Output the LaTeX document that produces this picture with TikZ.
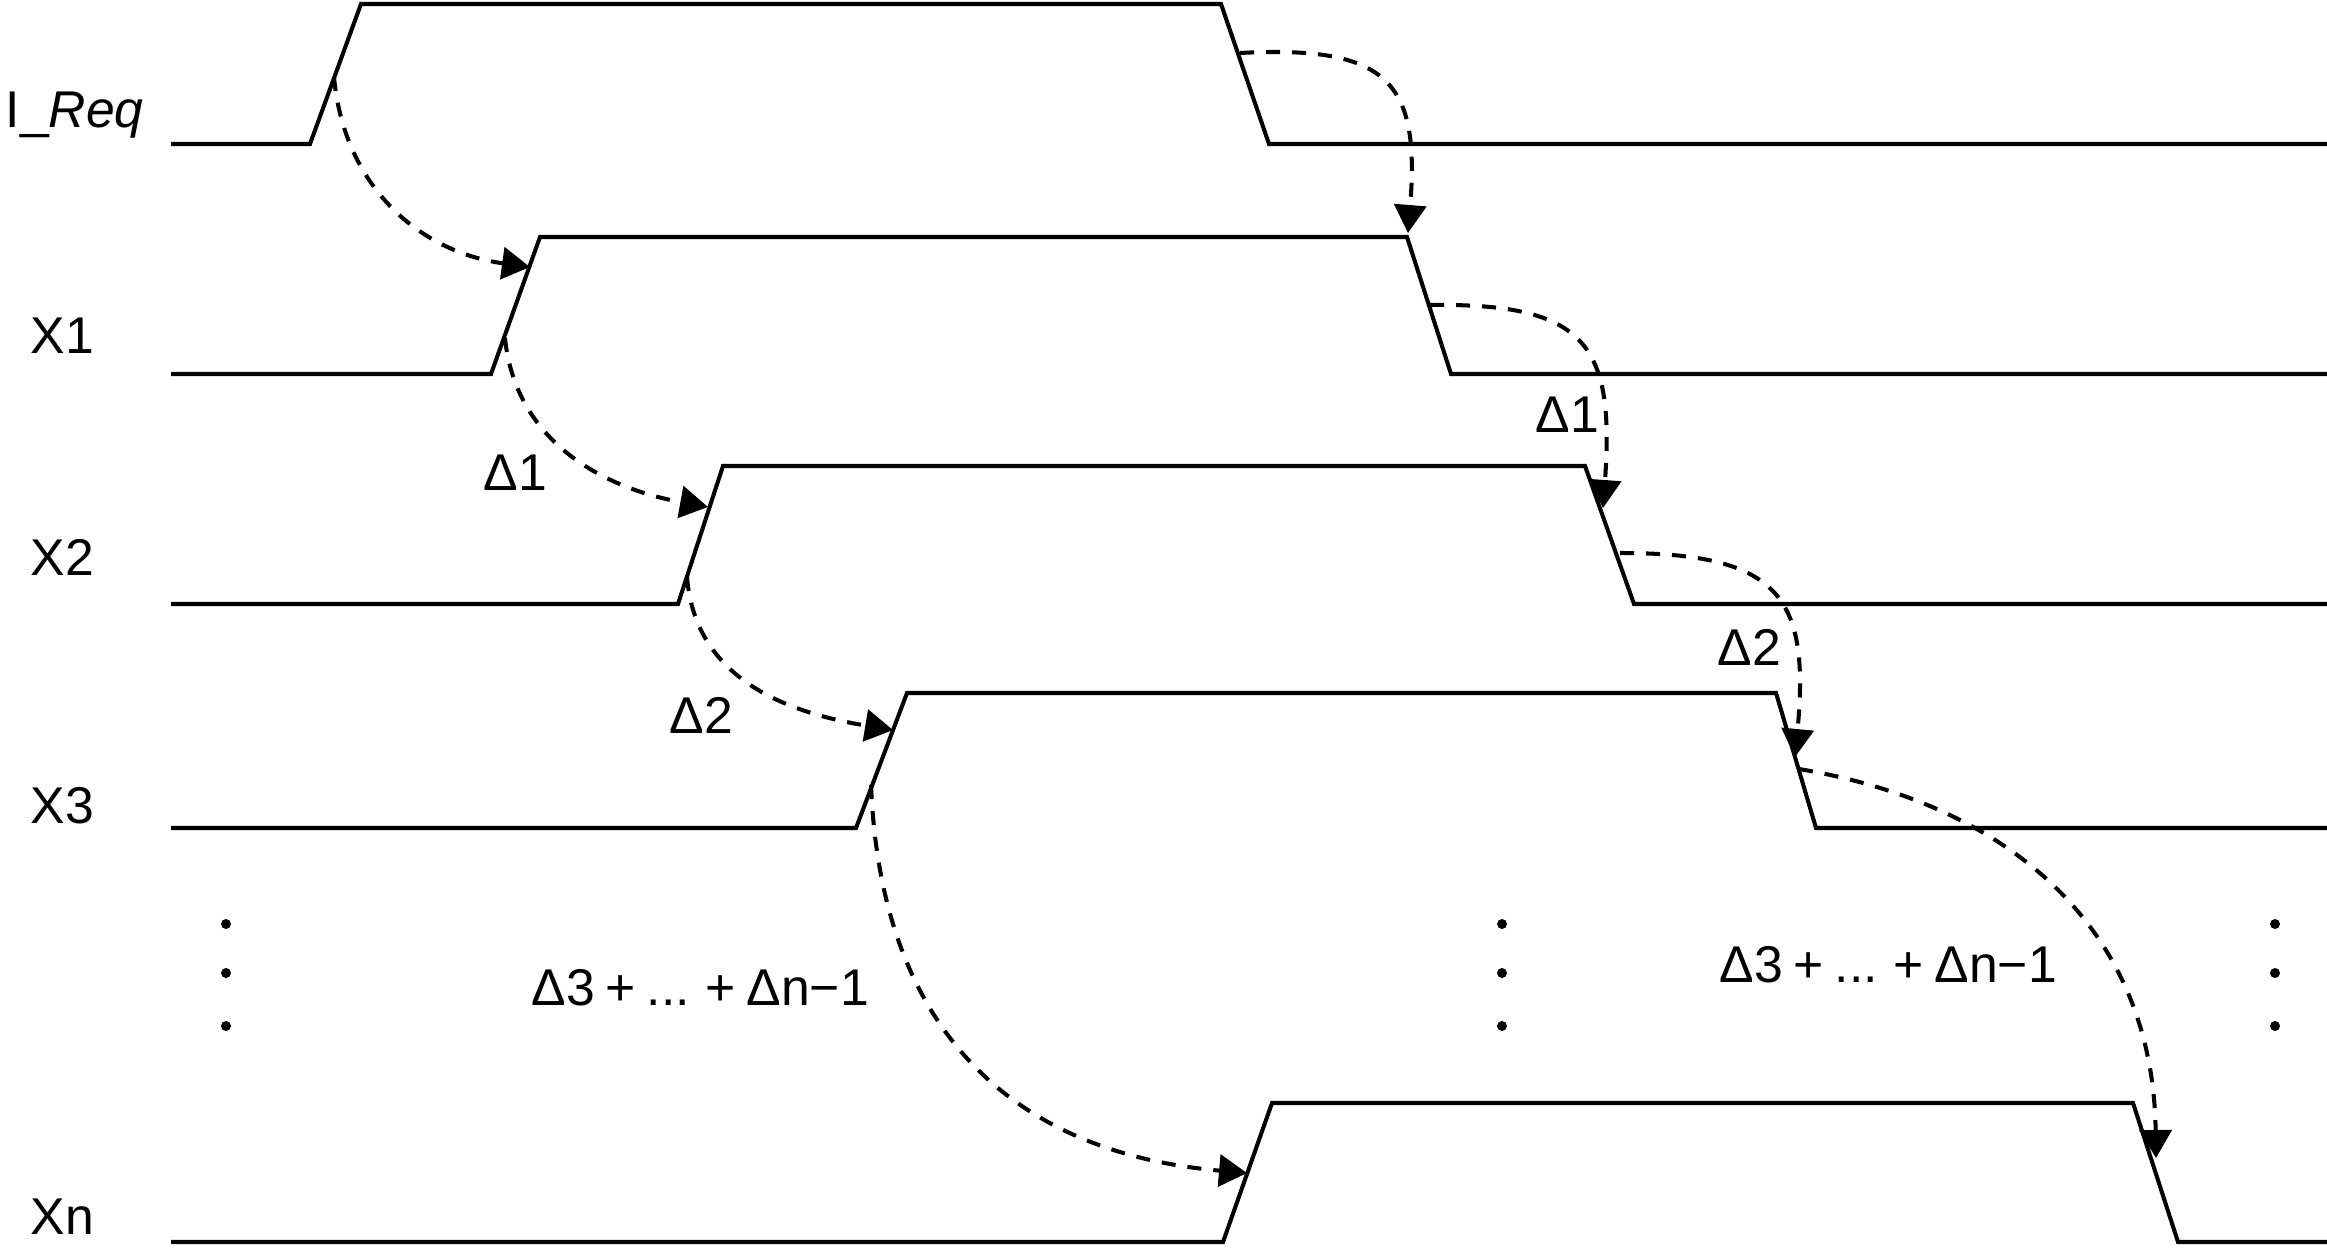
\documentclass[tikz,border=0pt]{standalone}
\usepackage{fontspec}
\setmainfont{Liberation Sans}
\usetikzlibrary{arrows.meta}
\begin{document}
\begin{tikzpicture}[x=0.01cm,y=-0.01cm,
  signal/.style={line width=1.15pt},
  dep/.style={line width=1.15pt, dash pattern=on 4pt off 3.4pt, -{Triangle[length=0.28cm,width=0.32cm]}},
  lbl/.style={anchor=base west, inner sep=0pt, font=\fontsize{14.7pt}{17pt}\selectfont},
  vdot/.style={fill=black}]
\useasboundingbox (0,0) rectangle (2327,1257);

% ---- signal corner coordinates ----
% I_Req
\coordinate (q0) at (171,144); \coordinate (qa) at (310,144); \coordinate (qb) at (361,4);
\coordinate (qc) at (1221,4); \coordinate (qd) at (1269,144); \coordinate (qe) at (2327,144);
% X1
\coordinate (p0) at (171,374); \coordinate (pa) at (491,374); \coordinate (pb) at (540,237);
\coordinate (pc) at (1407,237); \coordinate (pd) at (1451,374); \coordinate (pe) at (2327,374);
% X2
\coordinate (s0) at (171,604); \coordinate (sa) at (678,604); \coordinate (sb) at (723,466);
\coordinate (sc) at (1585,466); \coordinate (sd) at (1634,604); \coordinate (se) at (2327,604);
% X3
\coordinate (t0) at (171,828); \coordinate (ta) at (856,828); \coordinate (tb) at (907,693);
\coordinate (tc) at (1776,693); \coordinate (td) at (1816,828); \coordinate (te) at (2327,828);
% Xn
\coordinate (n0) at (171,1242); \coordinate (na) at (1223,1242); \coordinate (nb) at (1272,1103);
\coordinate (nc) at (2133,1103); \coordinate (nd) at (2178,1242); \coordinate (ne) at (2327,1242);

\draw[signal] (q0) -- (qa) -- (qb) -- (qc) -- (qd) -- (qe);
\draw[signal] (p0) -- (pa) -- (pb) -- (pc) -- (pd) -- (pe);
\draw[signal] (s0) -- (sa) -- (sb) -- (sc) -- (sd) -- (se);
\draw[signal] (t0) -- (ta) -- (tb) -- (tc) -- (td) -- (te);
\draw[signal] (n0) -- (na) -- (nb) -- (nc) -- (nd) -- (ne);

% ---- signal names ----
\node[lbl] (lq) at (5,127) {I\_\textit{Req}};
\node[lbl] (l1) at (30,353) {X1};
\node[lbl] (l2) at (30,575) {X2};
\node[lbl] (l3) at (30,823) {X3};
\node[lbl] (ln) at (30,1234) {Xn};

% ---- delay labels ----
\node[lbl] (d1l) at (483,490) {Δ1};
\node[lbl] (d2l) at (669,733) {Δ2};
\node[lbl] (d1r) at (1535,432) {Δ1};
\node[lbl] (d2r) at (1717,665) {Δ2};
\node[lbl] (dnl) at (531,1005) {\spaceskip=0.21em Δ3 + ... + Δn−1};
\node[lbl] (dnr) at (1719,982) {\spaceskip=0.21em Δ3 + ... + Δn−1};

% ---- ellipsis dots ----
\foreach \xx in {226,1502,2275}{
  \foreach \yy in {924,973,1026}{
    \fill[vdot] (\xx,\yy) circle[radius=0.05cm];
  }
}

% ---- dependency arrows: end points ----
\coordinate (a1s) at (334,77);   \coordinate (a1e) at (530,267);
\coordinate (a2s) at (1240,53);  \coordinate (a2e) at (1408,233);
\coordinate (a3s) at (505,338);  \coordinate (a3e) at (708,507);
\coordinate (a4s) at (1430,305); \coordinate (a4e) at (1603,508);
\coordinate (a5s) at (687,577);  \coordinate (a5e) at (893,730);
\coordinate (a6s) at (1620,553); \coordinate (a6e) at (1795,757);
\coordinate (a7s) at (871,785);  \coordinate (a7e) at (1247,1173);
\coordinate (a8s) at (1799,769); \coordinate (a8e) at (2156,1158);

\draw[dep] (a1s) .. controls +(10,110) and +(-110,-15) .. (a1e);
\draw[dep] (a2s) .. controls +(150,-8) and +(12,-150) .. (a2e);
\draw[dep] (a3s) .. controls +(10,100) and +(-110,-20) .. (a3e);
\draw[dep] (a4s) .. controls +(155,-2) and +(12,-165) .. (a4e);
\draw[dep] (a5s) .. controls +(8,100) and +(-110,-18) .. (a5e);
\draw[dep] (a6s) .. controls +(160,0) and +(15,-160) .. (a6e);
\draw[dep] (a7s) .. controls +(10,250) and +(-230,-20) .. (a7e);
\draw[dep] (a8s) .. controls +(210,35) and +(-3,-230) .. (a8e);
\end{tikzpicture}
\end{document}
